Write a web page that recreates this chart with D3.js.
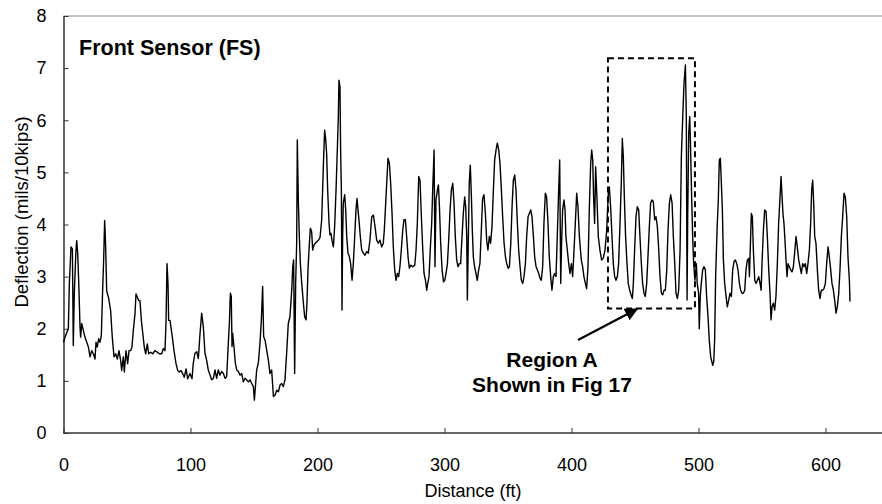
<!DOCTYPE html>
<html><head><meta charset="utf-8">
<script src="https://cdn.jsdelivr.net/npm/d3@7"></script>
<style>body{margin:0;background:#fff}svg{display:block;font-family:"Liberation Sans",Arial,sans-serif}</style>
</head><body><svg id="c" width="882" height="504"></svg>
<script>
const xTicks=[0,100,200,300,400,500,600];
const yTicks=[0,1,2,3,4,5,6,7,8];
const distance=[0,1.2,3.8,4.6,5.9,7.0,7.7,8.5,9.8,10.4,11.2,12.2,13.0,13.5,14.3,15.6,16.9,19.6,20.9,22.2,23.5,24.8,25.6,26.6,27.7,28.7,29.8,30.8,31.6,32.4,33.2,34.0,35.6,37.1,38.4,39.8,41.1,42.4,43.7,45.0,45.8,47.1,47.9,49.2,50.5,51.6,52.9,53.9,55.0,56.3,57.1,58.1,59.2,60.2,61.3,62.3,63.6,64.7,66.0,67.1,68.6,70.2,72.0,73.9,75.5,77.3,78.6,79.9,80.7,81.5,82.3,82.8,83.9,84.6,85.7,87.0,88.6,89.9,91.2,92.5,93.8,95.1,96.5,97.8,99.6,101.2,
102.2,103.5,104.9,106.2,107.5,108.8,110.1,111.4,112.7,114.0,115.4,116.7,118.0,119.3,120.6,121.9,123.2,124.5,125.9,127.2,128.5,129.5,130.6,131.4,132.1,132.7,133.2,134.2,135.3,136.4,137.7,139.0,140.3,141.6,142.9,144.2,145.5,146.9,148.2,149.5,150.3,151.3,152.1,153.4,154.7,155.8,156.8,157.6,158.7,160.0,161.3,162.6,163.9,165.3,166.6,167.9,169.2,170.5,171.8,173.1,174.4,175.7,177.0,178.3,179.7,180.5,181.2,182.0,182.8,183.6,184.1,184.9,185.7,186.5,187.6,188.9,189.9,191.0,191.7,192.5,193.6,194.4,195.4,196.2,197.3,198.3,199.4,200.7,
202.0,203.3,204.6,205.6,206.4,207.2,208.0,209.1,209.8,210.6,211.4,212.5,213.5,214.6,215.6,216.4,216.9,217.7,218.2,218.8,219.3,219.8,220.3,221.4,222.2,223.0,224.0,225.1,226.1,227.2,228.2,229.3,230.3,231.1,231.9,232.9,233.7,234.8,236.1,237.4,238.7,240.0,241.3,242.7,244.0,245.3,246.6,247.9,249.2,250.5,251.8,252.6,253.7,254.5,255.5,256.6,257.6,258.7,259.7,260.8,261.8,262.9,263.9,264.9,266.0,267.1,268.1,269.2,270.2,271.3,272.3,273.4,275.0,276.6,277.6,278.6,279.7,280.7,281.8,282.9,283.9,285.0,286.0,286.8,287.8,288.9,289.9,290.7,291.8,292.5,293.3,294.4,295.2,296.0,297.0,298.1,299.2,300.2,301.2,302.3,303.3,304.4,305.4,306.5,307.5,
308.5,309.6,310.6,311.7,312.7,313.8,314.8,315.9,316.7,317.5,318.0,318.8,319.5,320.3,321.1,321.9,322.7,323.7,324.8,325.8,326.9,327.9,329.0,330.0,331.1,332.2,333.2,334.2,335.3,336.3,337.4,338.5,339.5,340.6,341.6,342.7,343.7,344.8,345.8,346.9,348.0,349.0,350.1,351.1,352.2,353.2,354.2,355.3,356.3,357.4,358.4,359.5,360.5,361.6,362.6,363.7,364.7,365.8,366.8,367.9,368.9,370.0,371.0,372.1,373.1,374.2,375.2,376.2,377.3,378.3,379.4,380.4,381.5,382.5,383.6,384.6,385.7,386.7,387.8,388.8,389.9,390.7,391.5,392.2,393.0,394.1,394.9,395.6,396.7,397.8,398.8,399.9,400.9,402.0,403.0,404.1,405.1,406.2,
407.7,408.8,409.8,410.9,411.9,413.0,414.0,415.1,415.9,416.7,417.4,418.2,419.0,420.1,421.1,422.4,423.7,425.1,426.4,427.7,429.0,429.8,430.8,431.9,432.9,434.0,435.0,436.1,437.1,438.2,439.2,440.0,440.8,441.6,442.6,443.7,444.7,445.8,446.9,447.9,448.7,449.7,450.8,451.8,452.9,453.9,455.0,456.0,457.1,458.1,459.2,460.2,461.3,462.3,463.4,464.4,465.5,466.5,467.6,468.7,469.7,470.8,471.8,472.9,473.9,475.0,476.0,477.1,478.1,479.2,480.2,481.3,482.3,483.4,484.4,485.5,486.5,487.6,488.6,489.7,490.4,491.0,491.5,492.3,493.1,493.8,494.6,495.4,496.2,497.2,498.3,499.0,500.1,500.6,501.4,502.2,503.3,504.3,505.4,506.4,507.5,508.5,509.6,
511.2,512.0,512.7,513.5,514.6,515.6,516.4,517.2,518.0,518.8,519.6,520.6,521.7,522.7,523.8,524.8,525.9,526.9,528.0,529.0,530.1,531.1,532.2,533.2,534.3,535.3,536.4,537.4,538.5,539.6,540.1,540.9,541.6,542.4,543.2,544.3,545.3,546.4,547.4,548.5,549.3,550.0,551.1,552.1,553.2,554.2,555.3,556.3,557.1,557.9,558.9,560.0,561.0,562.1,563.1,564.2,565.0,565.8,566.5,567.3,568.1,568.9,569.7,570.5,571.5,572.6,573.6,574.7,575.7,576.8,577.8,578.9,579.9,581.0,582.0,583.1,584.1,585.2,586.2,587.3,588.3,589.1,589.9,590.7,591.5,592.5,593.6,594.6,595.7,596.7,597.8,598.8,599.9,600.9,602.0,603.0,604.1,605.1,606.2,607.2,608.3,609.3,610.4,611.4,612.5,613.5,614.6,615.6,616.7,617.7,618.8,619.3];
const deflection=[1.74,1.84,2.00,2.86,3.57,3.53,1.68,2.67,3.50,3.69,3.44,2.73,2.03,1.84,2.10,1.97,1.84,1.65,1.46,1.58,1.52,1.42,1.74,1.65,1.81,1.74,1.87,2.73,3.31,4.08,3.57,2.73,2.58,2.35,1.84,1.46,1.52,1.42,1.58,1.39,1.20,1.46,1.17,1.58,1.33,1.58,1.58,1.65,1.97,2.29,2.67,2.61,2.54,2.54,2.16,1.94,1.65,1.52,1.71,1.52,1.55,1.52,1.58,1.55,1.52,1.52,1.62,1.58,2.10,3.25,2.86,2.16,2.16,2.03,1.84,1.58,1.33,1.20,1.17,1.20,1.14,1.07,1.23,1.04,1.14,1.04,
1.34,1.53,1.56,1.43,1.91,2.30,2.04,1.53,1.40,1.21,1.11,1.02,1.05,1.21,1.05,1.21,1.11,1.18,1.14,1.05,1.08,1.59,2.10,2.68,2.62,1.66,1.91,1.66,1.34,1.21,1.18,1.11,1.14,0.98,1.05,1.02,0.98,1.02,0.95,0.89,0.63,0.95,1.21,1.34,1.72,2.17,2.81,1.85,1.78,1.59,1.40,1.14,1.21,0.70,0.73,0.82,0.79,0.92,0.95,0.89,1.02,1.53,2.10,2.23,2.74,3.19,3.32,1.14,2.87,3.64,5.62,4.47,3.77,3.25,2.87,2.49,2.23,2.17,2.49,3.13,3.64,3.93,3.86,3.51,3.61,3.64,3.67,3.70,
3.75,4.09,5.11,5.81,5.65,5.36,4.66,4.02,3.80,3.83,3.70,3.57,3.96,4.66,5.43,6.07,6.77,6.64,5.43,4.66,2.36,3.77,4.41,4.57,4.28,3.77,3.45,3.38,3.25,2.93,3.25,3.77,4.28,4.50,4.28,4.02,3.77,3.51,3.45,3.41,3.48,3.45,3.70,4.15,4.18,3.96,3.70,3.64,3.70,3.57,3.64,3.89,4.41,4.79,5.27,5.17,4.79,4.21,3.57,3.13,2.93,3.06,3.00,3.19,3.51,3.89,4.09,4.09,3.77,3.38,3.16,3.22,3.19,3.22,3.51,4.02,4.92,4.85,4.15,3.51,3.06,2.93,2.74,2.87,3.00,3.57,4.02,4.66,5.43,3.19,4.47,4.66,4.76,4.34,3.64,3.13,2.90,2.93,3.06,3.25,3.70,4.28,4.66,4.79,4.41,
3.77,3.32,3.19,3.25,3.25,3.77,4.21,4.53,4.34,3.77,2.55,3.77,4.79,5.14,4.60,3.89,3.38,3.19,3.06,2.93,3.13,3.25,3.89,4.50,4.57,4.21,3.70,3.51,3.77,3.64,3.96,4.66,5.24,5.43,5.56,5.43,5.17,4.66,4.15,3.64,3.38,3.25,3.16,3.19,3.64,4.34,4.85,4.95,4.66,4.02,3.51,3.19,2.93,2.87,3.00,3.25,3.77,4.15,4.21,4.28,4.15,3.77,3.38,3.19,3.13,3.06,2.97,2.93,3.19,4.02,4.60,4.53,4.02,3.38,3.00,2.74,3.00,3.06,3.00,3.77,4.66,5.24,2.87,3.64,4.28,4.47,4.28,3.77,3.51,3.25,3.06,3.25,3.00,3.51,4.02,4.60,4.34,3.77,
3.32,3.19,3.00,2.87,2.77,3.19,4.28,5.17,5.43,5.24,4.53,4.02,5.11,4.47,3.77,3.51,3.32,3.36,3.51,3.89,4.60,4.72,4.34,3.77,3.25,3.00,2.93,3.00,3.25,4.02,4.79,5.65,5.30,4.53,3.77,3.25,2.87,2.74,2.65,2.58,2.87,3.51,4.15,4.34,4.28,3.77,3.25,2.87,2.68,2.62,2.87,3.38,3.96,4.41,4.47,4.44,4.09,4.15,3.96,3.51,3.00,2.68,2.65,2.74,2.74,3.13,3.89,4.41,4.57,4.41,3.77,3.25,2.68,2.58,2.74,3.51,5.30,6.07,6.71,7.06,6.07,2.55,4.15,5.75,6.07,5.43,4.53,3.77,3.25,2.93,3.25,2.87,2.68,2.00,2.62,2.87,3.13,3.19,3.13,2.62,2.23,1.78,1.46,
1.30,1.37,1.78,3.00,3.89,4.47,5.24,5.27,4.79,4.28,3.32,2.87,2.62,2.42,2.55,2.68,2.62,3.13,3.29,3.32,3.25,3.13,2.87,2.74,2.68,2.68,2.74,3.13,3.32,3.35,3.00,3.64,4.21,4.15,3.51,2.93,2.87,2.93,3.00,2.87,2.74,3.25,3.89,4.28,4.25,3.77,3.13,2.68,2.17,2.42,2.49,2.36,2.62,3.25,4.02,4.53,4.92,4.53,4.21,4.02,3.70,3.32,3.00,3.25,3.19,3.13,3.09,3.19,3.45,3.77,3.57,3.32,3.19,3.06,3.25,3.19,3.25,3.06,3.25,3.51,4.02,4.66,4.85,4.41,3.77,3.64,3.13,2.74,2.58,2.74,2.74,2.77,2.87,3.25,3.57,3.38,3.13,2.87,2.74,2.55,2.30,2.42,2.68,3.13,3.77,4.15,4.60,4.53,4.15,3.38,2.93,2.52];
const chartTitle="Front Sensor (FS)";
const xTitle="Distance (ft)";
const yTitle="Deflection (mils/10kips)";
const noteLines=["Region A","Shown in Fig 17"];
const regionBox={x0:428.7,x1:497.2,y0:2.39,y1:7.19};

const svg=d3.select("#c");
const x=d3.scaleLinear().domain([0,650]).range([63.5,889]);
const y=d3.scaleLinear().domain([0,8]).range([433,16]);

svg.append("line").attr("x1",63.5).attr("x2",882).attr("y1",y(8)).attr("y2",y(8)).attr("stroke","#8c8c8c").attr("stroke-width",1.2);

const gx=svg.append("g").attr("transform",`translate(0,${y(0)})`)
 .call(d3.axisBottom(x).tickValues(xTicks).tickSize(-5).tickPadding(25).tickSizeOuter(0));
const gy=svg.append("g").attr("transform",`translate(${x(0)},0)`)
 .call(d3.axisLeft(y).tickValues(yTicks).tickSize(-5).tickPadding(17).tickSizeOuter(0));
[gx,gy].forEach(g=>{g.selectAll("path").attr("stroke","#333").attr("stroke-width",1.5);
 g.selectAll(".tick line").attr("stroke","#333");
 g.selectAll("text").attr("font-size",18).attr("fill","#000").attr("font-family","Liberation Sans, Arial, sans-serif");});
gx.select(".domain").attr("d",`M63.5,0H882`);

const line=d3.line().x((d,i)=>x(distance[i])).y(d=>y(d));
svg.append("path").datum(deflection).attr("d",line).attr("fill","none").attr("stroke","#000").attr("stroke-width",1.4).attr("stroke-linejoin","round");

svg.append("text").attr("x",79).attr("y",55).attr("font-size",21.5).attr("font-weight","bold").text(chartTitle);
svg.append("text").attr("x",473).attr("y",497).attr("text-anchor","middle").attr("font-size",18).text(xTitle);
svg.append("text").attr("transform","translate(28,212) rotate(-90)").attr("text-anchor","middle").attr("font-size",18.5).text(yTitle);

svg.append("rect").attr("x",x(regionBox.x0)).attr("y",y(regionBox.y1))
 .attr("width",x(regionBox.x1)-x(regionBox.x0)).attr("height",y(regionBox.y0)-y(regionBox.y1))
 .attr("fill","none").attr("stroke","#000").attr("stroke-width",2).attr("stroke-dasharray","6,4");

svg.append("defs").append("marker").attr("id","ah").attr("viewBox","0 0 10 10").attr("refX",9).attr("refY",5)
 .attr("markerWidth",6).attr("markerHeight",6).attr("orient","auto")
 .append("path").attr("d","M0,0L10,5L0,10z").attr("fill","#000");
svg.append("line").attr("x1",578).attr("y1",340).attr("x2",637).attr("y2",309).attr("stroke","#000").attr("stroke-width",2.2).attr("marker-end","url(#ah)");

noteLines.forEach((t,i)=>svg.append("text").attr("x",552).attr("y",367+i*25).attr("text-anchor","middle").attr("font-size",21).attr("font-weight","bold").text(t));
</script></body></html>
